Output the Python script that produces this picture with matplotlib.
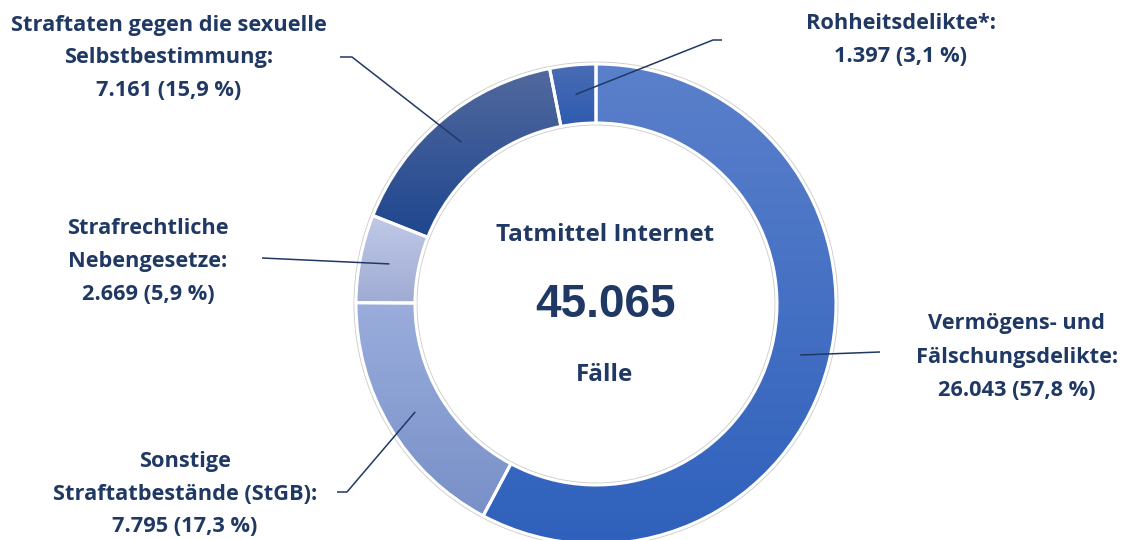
import numpy as np
import matplotlib
matplotlib.use("Agg")
import matplotlib.pyplot as plt
from matplotlib.colors import LinearSegmentedColormap

# Fälle mit Tatmittel Internet nach Deliktsbereich
categories = [
    ["Vermögens- und", "Fälschungsdelikte:"],
    ["Sonstige", "Straftatbestände (StGB):"],
    ["Strafrechtliche", "Nebengesetze:"],
    ["Straftaten gegen die sexuelle", "Selbstbestimmung:"],
    ["Rohheitsdelikte*:"],
]
values = [26043, 7795, 2669, 7161, 1397]
title = "Tatmittel Internet"
unit = "Fälle"

# gradient per slice (top colour, bottom colour)
gradients = [
    ("#5B80CB", "#2F61BC"),
    ("#9AADDC", "#7890C8"),
    ("#C0C9E7", "#A0ABD3"),
    ("#52699D", "#1F468F"),
    ("#4A6CB4", "#2E5CB0"),
]

text_color = "#203864"
label_font = ["Open Sans", "DejaVu Sans"]
W, H = 1121, 540
cx, cy = 596, H - 304
r_out, r_in = 240, 181

# label block centres and leader line points (pixel coords, y measured from top)
label_pos = [(1017, 357), (185, 494), (148, 262), (169, 58), (901, 40)]
leader_start = [[(880, 352)], [(337, 492), (347, 492)], [(262, 258)],
                [(340, 57), (352, 57)], [(722, 40), (713, 40)]]
line_step = 33


def fmt_int(v):
    return f"{v:,}".replace(",", ".")


fig = plt.figure(figsize=(W / 100, H / 100), dpi=100)
ax = fig.add_axes([0, 0, 1, 1])
ax.set_xlim(0, W)
ax.set_ylim(0, H)
ax.set_aspect("equal")
ax.axis("off")

total = sum(values)
wedges, _ = ax.pie(
    values,
    center=(cx, cy),
    radius=r_out,
    startangle=90,
    counterclock=False,
    wedgeprops=dict(width=r_out - r_in, facecolor="none", edgecolor="white", linewidth=2.2),
    frame=True,
)

# vertical gradient clipped to each slice
for w, (c_top, c_bot) in zip(wedges, gradients):
    ext = w.get_path().get_extents()
    cmap = LinearSegmentedColormap.from_list("g", [c_bot, c_top])
    grad = np.linspace(0, 1, 256).reshape(-1, 1)
    im = ax.imshow(grad, cmap=cmap, origin="lower", aspect="auto",
                   extent=[ext.x0, ext.x1, ext.y0, ext.y1], zorder=1,
                   interpolation="bilinear")
    im.set_clip_path(w)
    w.set_zorder(2)

# soft outline around the ring
for r in (r_out + 1.8, r_in - 1.8):
    ax.add_patch(plt.Circle((cx, cy), r, fill=False, edgecolor="#d0d0d0", linewidth=1.0, zorder=1.5))

ax.set_xlim(0, W)
ax.set_ylim(0, H)

# labels and leader lines
r_mid = (r_out + r_in) / 2
for w, lines, v, (lx, ly), pts in zip(wedges, categories, values, label_pos, leader_start):
    ang = np.deg2rad((w.theta1 + w.theta2) / 2)
    ax_, ay_ = cx + r_mid * np.cos(ang), cy + r_mid * np.sin(ang)
    xs = [p[0] for p in pts] + [ax_]
    ys = [H - p[1] for p in pts] + [ay_]
    ax.plot(xs, ys, color=text_color, linewidth=1.1, zorder=3, solid_capstyle="butt")

    pct = f"{100 * v / total:.1f}".replace(".", ",")
    block = lines + [f"{fmt_int(v)} ({pct} %)"]
    n = len(block)
    for i, s in enumerate(block):
        y = H - (ly + (i - (n - 1) / 2) * line_step)
        ax.text(lx, y, s, ha="center", va="center", fontsize=15.7,
                fontweight="bold", family=label_font, color=text_color)

# centre text
ax.text(605, H - 235, title, ha="center", va="center", fontsize=17.5,
        fontweight="bold", family=label_font, color=text_color)
ax.text(605, H - 305, fmt_int(total), ha="center", va="center", fontsize=33,
        fontweight="bold", family="Liberation Sans", color=text_color)
ax.text(604, H - 375, unit, ha="center", va="center", fontsize=17.5,
        fontweight="bold", family=label_font, color=text_color)

fig.savefig("out.png", dpi=100, facecolor="white")
